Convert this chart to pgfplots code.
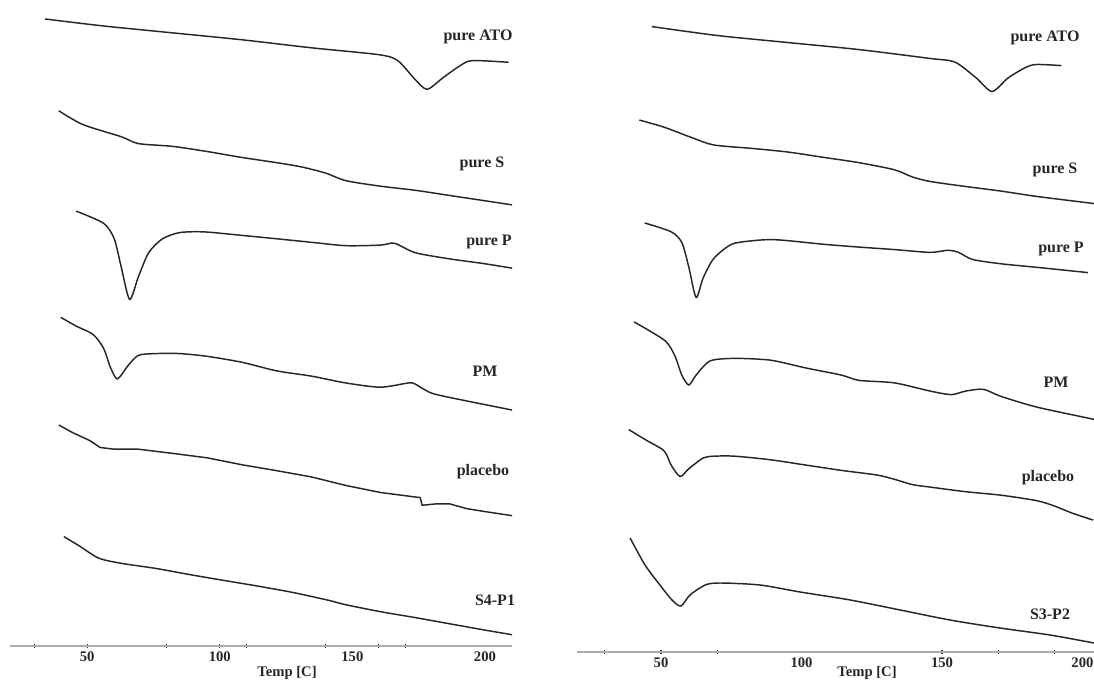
\documentclass[border=0pt]{standalone}
\usepackage{pgfplots}
\pgfplotsset{compat=1.18}
\usepackage{fontspec}
\setmainfont{Liberation Serif}
\begin{document}
\begin{tikzpicture}[x=0.75pt,y=0.75pt]
\useasboundingbox (0,0) rectangle (1094,680);
\pgfplotsset{
  dsc/.style={
    scale only axis,
    axis x line=bottom,
    axis y line=none,
    axis line style={gray!65,line width=1.6pt,-},
    xtick={50,100,150,200},
    major tick length=0pt,
    minor tick length=3pt,
    tick align=center,
    minor tick style={black!80,line width=0.9pt},
    xticklabel style={font=\bfseries\fontsize{11}{11}\selectfont,black!85,yshift=-1pt},
    /pgf/number format/assume math mode=true,
    clip=true,
  },
  curve/.style={black!85,line width=1.1pt,no markers,smooth,tension=0.45},
}
% ---------------- left panel ----------------
\begin{axis}[dsc,
  at={(7.5pt,25.5pt)}, anchor=south west,
  width=376.5pt, height=484.5pt,
  xmin=20.9, xmax=210.2, ymin=-646, ymax=0,
  minor xtick={30,50,80,100,110,140,160,170}]
% pure ATO
\addplot[curve] coordinates {(34.1,-19)(56.2,-26)(82.3,-32.9)(108.4,-39.8)(134.5,-47.8)(160.0,-54.7)(167.1,-60.6)(173.7,-79.6)(178.2,-89.3)(184.1,-77.9)(190.6,-65.7)(195.2,-60.6)(208.9,-62.3)};
% pure S
\addplot[curve] coordinates {(39.3,-110.8)(48.4,-124.6)(62.8,-136.7)(69.3,-143.6)(82.3,-146.4)(95.4,-151.6)(108.4,-157.5)(121.5,-162.7)(130.6,-166.8)(139.8,-173)(147.6,-180.7)(160.6,-186.2)(173.7,-190.3)(186.7,-195.5)(199.8,-200.7)(212.8,-205.9)};
% pure P
\addplot[curve] coordinates {(45.8,-211.1)(56.2,-223.3)(60.2,-238.8)(62.8,-266.5)(66.0,-299.4)(69.3,-276.9)(73.2,-252.7)(78.4,-238.8)(84.9,-232.6)(94.1,-231.9)(108.4,-235.4)(121.5,-238.8)(134.5,-242.3)(147.6,-245.7)(160.6,-245.1)(165.9,-243.3)(173.7,-252.7)(186.7,-258.9)(199.8,-263.7)(212.8,-269.3)};
% PM
\addplot[curve] coordinates {(40.0,-317.3)(45.8,-326)(52.3,-334.6)(56.2,-348.4)(58.8,-367.5)(61.4,-378.9)(65.4,-365.7)(69.3,-355.4)(75.8,-353.6)(84.9,-353.6)(95.4,-356.4)(108.4,-362.3)(121.5,-370.9)(134.5,-376.1)(147.6,-383)(160.6,-387.2)(171.1,-383)(173.7,-384.1)(180.2,-393.4)(193.2,-401)(212.8,-411.4)};
% placebo
\addplot[black!85,line width=1.1pt,no markers] coordinates {(39.3,-425)(44.5,-432.6)(51.0,-440.6)(54.9,-447.5)(60.2,-449.2)(69.3,-449.2)(82.3,-453.4)(95.4,-457.9)(108.4,-464.8)(121.5,-470.7)(134.5,-476.9)(147.6,-485.5)(160.6,-492.5)(173.7,-497)(175.6,-497.6)(176.3,-505.3)(181.5,-503.9)(186.7,-503.9)(193.2,-508.7)(199.8,-511.5)(212.8,-516.7)};
% S4-P1
\addplot[curve] coordinates {(41.2,-536.6)(47.1,-546)(54.3,-558.1)(62.8,-563.3)(75.8,-568.4)(88.9,-574.7)(101.9,-580.6)(115.0,-586.4)(128.0,-592.7)(141.0,-600.3)(147.6,-604.8)(160.6,-611.7)(173.7,-617.6)(186.7,-623.8)(199.8,-630)(212.8,-635.9)};
\end{axis}
% ---------------- right panel ----------------
\begin{axis}[dsc,
  at={(432.75pt,21pt)}, anchor=south west,
  width=387.75pt, height=489pt,
  xmin=20.1, xmax=204.1, ymin=-652, ymax=0,
  minor xtick={30,50,70,150,170,190}]
% pure ATO
\addplot[curve] coordinates {(46.7,-26.6)(70.0,-35.5)(95.3,-42.6)(120.5,-49.6)(145.8,-58.5)(154.6,-62.1)(162.2,-78)(167.8,-91.5)(173.5,-78)(179.8,-67.4)(183.6,-64.5)(192.5,-65.6)};
% pure S
\addplot[curve] coordinates {(42.3,-120.1)(51.1,-127.2)(61.2,-137.9)(68.8,-145)(82.7,-148.5)(95.3,-152.1)(107.9,-157.4)(120.5,-162.7)(133.1,-169.8)(139.4,-176.9)(145.8,-181.5)(158.4,-186.5)(171.0,-191.1)(183.6,-196.4)(201.9,-202.8)(205,-204)};
% pure P
\addplot[curve] coordinates {(44.2,-223)(53.6,-231.8)(57.4,-242.5)(59.9,-267.3)(62.5,-297.4)(65.0,-277.9)(68.8,-258.4)(75.1,-244.3)(82.7,-240.7)(89.0,-239.6)(95.3,-240.7)(107.9,-244.3)(120.5,-247.1)(133.1,-249.6)(145.8,-252.4)(152.1,-250.3)(155.9,-252.4)(160.9,-259.5)(171.0,-263.8)(183.6,-267.3)(201.9,-272.6)};
% PM
\addplot[curve] coordinates {(40.4,-321.9)(44.8,-329)(51.7,-341.4)(54.9,-355.6)(57.4,-375.1)(59.9,-385)(62.5,-375.1)(67.5,-360.9)(76.3,-358.4)(89.0,-360.2)(101.6,-368)(114.2,-375.1)(120.5,-380.4)(133.1,-382.9)(145.8,-391.1)(153.3,-394.6)(158.4,-391.1)(164.7,-389.3)(171.0,-396.4)(183.6,-407)(201.3,-417.7)(205,-420)};
% placebo
\addplot[curve] coordinates {(38.5,-429.6)(44.8,-440.3)(51.1,-450.9)(53.6,-465.1)(56.8,-476.5)(59.9,-468.7)(65.0,-458)(68.8,-456.2)(76.3,-456.2)(89.0,-459.8)(101.6,-465.1)(114.2,-470.4)(126.8,-475)(133.1,-479.3)(139.4,-484.6)(145.8,-487.1)(158.4,-491.7)(171.0,-495.2)(183.6,-500.6)(189.9,-505.9)(196.2,-513)(203.8,-520.1)};
% S3-P2
\addplot[curve] coordinates {(39.0,-538)(44.3,-565)(49.6,-585)(53.9,-600)(57.1,-606)(60.3,-595)(65.7,-585)(71.0,-583)(85.2,-585)(99.5,-592)(117.3,-600)(135.1,-610)(152.8,-620)(170.6,-628)(188.4,-635)(204.1,-643)};
\end{axis}
% ---------------- labels ----------------
\begin{scope}[every node/.style={font=\bfseries\fontsize{12}{12}\selectfont,text=black!85,inner sep=0pt}]
\node at (478,643) {pure ATO};
\node at (482,516) {pure S};
\node at (489,438) {pure P};
\node at (485,309) {PM};
\node at (483,208) {placebo};
\node at (495,80) {S4-P1};
\node at (1045,642) {pure ATO};
\node at (1055,510) {pure S};
\node at (1061,431) {pure P};
\node at (1056,298) {PM};
\node at (1048,202) {placebo};
\node at (1050,66) {S3-P2};
\end{scope}
\begin{scope}[every node/.style={font=\bfseries\fontsize{11}{11}\selectfont,text=black!85,inner sep=0pt}]
\node at (287,7) {Temp [C]};
\node at (867,7.5) {Temp [C]};
\end{scope}
\end{tikzpicture}
\end{document}
